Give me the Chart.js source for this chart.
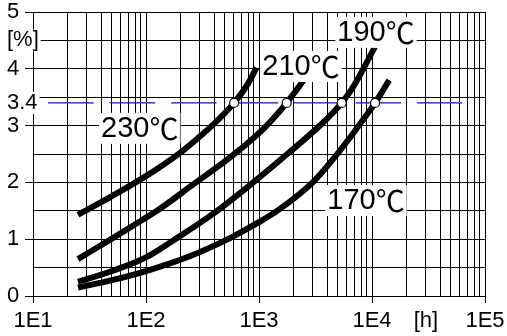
<!DOCTYPE html>
<html>
<head>
<meta charset="utf-8">
<script src="https://cdn.jsdelivr.net/npm/chart.js@4/dist/chart.umd.min.js"></script>
<style>
    body { margin: 0; background: #fff; }
    canvas { display: block; }
</style>
</head>
<body>
<canvas id="creep" width="507" height="336"></canvas>
<script>
// creep strain curves, time [h] vs strain [%]
var hours230 = [25, 50, 100, 200, 300, 380, 602, 800, 950];
var strain230 = [1.43, 1.76, 2.11, 2.52, 2.81, 2.99, 3.40, 3.74, 4.02];

var hours210 = [25, 50, 100, 125, 260, 580, 1130, 1758, 2550];
var strain210 = [0.65, 1.01, 1.38, 1.50, 1.96, 2.47, 2.97, 3.40, 3.83];

var hours190 = [25, 50, 100, 181, 394, 890, 1758, 3500, 5400, 7000, 10640];
var strain190 = [0.25, 0.44, 0.68, 1.00, 1.45, 2.00, 2.49, 3.01, 3.40, 3.72, 4.39];

var hours170 = [25, 50, 100, 250, 553, 1000, 1500, 3020, 4700, 7330, 10640, 14200];
var strain170 = [0.15, 0.28, 0.44, 0.71, 1.02, 1.30, 1.52, 2.01, 2.45, 2.95, 3.40, 3.80];

// points where each curve reaches 3.4 %
var markHours = [602, 1758, 5400, 10640];
var markStrain = [3.4, 3.4, 3.4, 3.4];

// 3.4 % reference line
var refHours = [13.6, 62500];
var refStrain = [3.4, 3.4];

var curveTemps = ["230", "210", "190", "170"];
var tempUnit = "℃";

var xLabelValues = [10, 100, 1000, 10000, 30000, 100000];
var xLabelTexts = ["1E1", "1E2", "1E3", "1E4", "[h]", "1E5"];

var yLabelValues = [0, 1, 2, 3, 3.4, 4, 4.5, 5];
var yLabelTexts = ["0", "1", "2", "3", "3.4", "4", "[%]", "5"];

// where the temperature names sit (hours, strain)
var nameSpots = [[88, 2.96], [2355, 4.05], [10840, 4.65], [8850, 1.69]];

function pts(xs, ys) {
    return xs.map((x, i) => ({ x: x, y: ys[i] }));
}

var xGrid = [];
for (var e = 1; e <= 4; e++) {
    for (var m = 1; m <= 9; m++) xGrid.push(m * Math.pow(10, e));
}
xGrid.push(100000);

var yGrid = [];
for (var v = 0; v <= 5; v += 0.5) yGrid.push(v);
yGrid.push(3.4);

var font = '"Liberation Sans", Arial, sans-serif';
var cjkFont = '"Noto Sans CJK JP", sans-serif';

var curveStyle = {
    borderColor: "#000",
    borderWidth: 6,
    pointRadius: 0,
    fill: false,
    cubicInterpolationMode: "monotone",
    order: 1
};

var nameLabels = {
    id: "nameLabels",
    afterDatasetsDraw(chart) {
        var ctx = chart.ctx;
        var xs = chart.scales.x, ys = chart.scales.y;
        ctx.save();
        ctx.textAlign = "left";
        ctx.textBaseline = "middle";
        curveTemps.forEach((t, i) => {
            var px = xs.getPixelForValue(nameSpots[i][0]);
            var py = ys.getPixelForValue(nameSpots[i][1]);
            ctx.font = "29px " + font;
            var w1 = ctx.measureText(t).width;
            ctx.font = "29px " + cjkFont;
            var w2 = ctx.measureText(tempUnit).width;
            var w = w1 + w2;
            ctx.fillStyle = "#fff";
            ctx.fillRect(px - w / 2 - 2, py - 15, w + 4, 31);
            ctx.fillStyle = "#000";
            ctx.font = "29px " + font;
            ctx.fillText(t, px - w / 2, py + 1);
            ctx.font = "29px " + cjkFont;
            ctx.fillText(tempUnit, px - w / 2 + w1, py + 1);
        });
        ctx.restore();
    }
};

new Chart(document.getElementById("creep"), {
    type: "line",
    data: {
        datasets: [
            {
                data: pts(markHours, markStrain),
                showLine: false,
                pointRadius: 4.5,
                pointBackgroundColor: "#fff",
                pointBorderColor: "#000",
                pointBorderWidth: 1.2,
                order: 0
            },
            Object.assign({ data: pts(hours230, strain230) }, curveStyle),
            Object.assign({ data: pts(hours210, strain210) }, curveStyle),
            Object.assign({ data: pts(hours190, strain190) }, curveStyle),
            Object.assign({ data: pts(hours170, strain170) }, curveStyle),
            {
                data: pts(refHours, refStrain),
                borderColor: "#0f0fc8",
                borderWidth: 1.2,
                borderDash: [45.5, 16],
                pointRadius: 0,
                order: 2
            }
        ]
    },
    options: {
        responsive: false,
        animation: false,
        layout: { padding: { left: 7, right: 22, top: 12, bottom: 0 } },
        plugins: { legend: { display: false }, tooltip: { enabled: false } },
        scales: {
            x: {
                type: "logarithmic",
                min: 10,
                max: 100000,
                afterBuildTicks: s => { s.ticks = xGrid.map(v => ({ value: v })); },
                afterFit: s => { s.height = 40; s.paddingLeft = 0; s.paddingRight = 0; },
                grid: {
                    color: "#000",
                    lineWidth: 1,
                    tickLength: 7,
                    tickColor: c => xLabelValues.indexOf(c.tick && c.tick.value) >= 0 && c.tick.value !== 30000 ? "#000" : "rgba(0,0,0,0)"
                },
                border: { color: "#000", width: 1 },
                ticks: {
                    autoSkip: false,
                    maxRotation: 0,
                    padding: 5,
                    color: "#000",
                    font: { family: font, size: 22 },
                    callback: v => {
                        var k = xLabelValues.indexOf(v);
                        return k >= 0 ? xLabelTexts[k] : "";
                    }
                }
            },
            y: {
                min: 0,
                max: 5,
                afterBuildTicks: s => { s.ticks = yGrid.map(v => ({ value: v })); },
                afterFit: s => {
                    s.width = 26; s.paddingTop = 0; s.paddingBottom = 0;
                    // let "3.4" and "[%]" run over the axis line
                    s._computeLabelArea = () => undefined;
                },
                grid: {
                    color: c => c.tick && c.tick.value === 3.4 ? "rgba(0,0,0,0)" : "#000",
                    lineWidth: 1,
                    tickLength: 8,
                    tickColor: c => c.tick && Number.isInteger(c.tick.value) ? "#000" : "rgba(0,0,0,0)"
                },
                border: { color: "#000", width: 1 },
                ticks: {
                    crossAlign: "far",
                    color: "#000",
                    font: { family: font, size: 22, lineHeight: 1 },
                    showLabelBackdrop: c => c.tick && (c.tick.value === 3.4 || c.tick.value === 4.5),
                    backdropColor: "#fff",
                    backdropPadding: { top: 0, bottom: 0, left: 0, right: 2 },
                    callback: v => {
                        var k = yLabelValues.indexOf(v);
                        return k >= 0 ? yLabelTexts[k] : "";
                    }
                }
            }
        }
    },
    plugins: [nameLabels]
});
</script>
</body>
</html>
